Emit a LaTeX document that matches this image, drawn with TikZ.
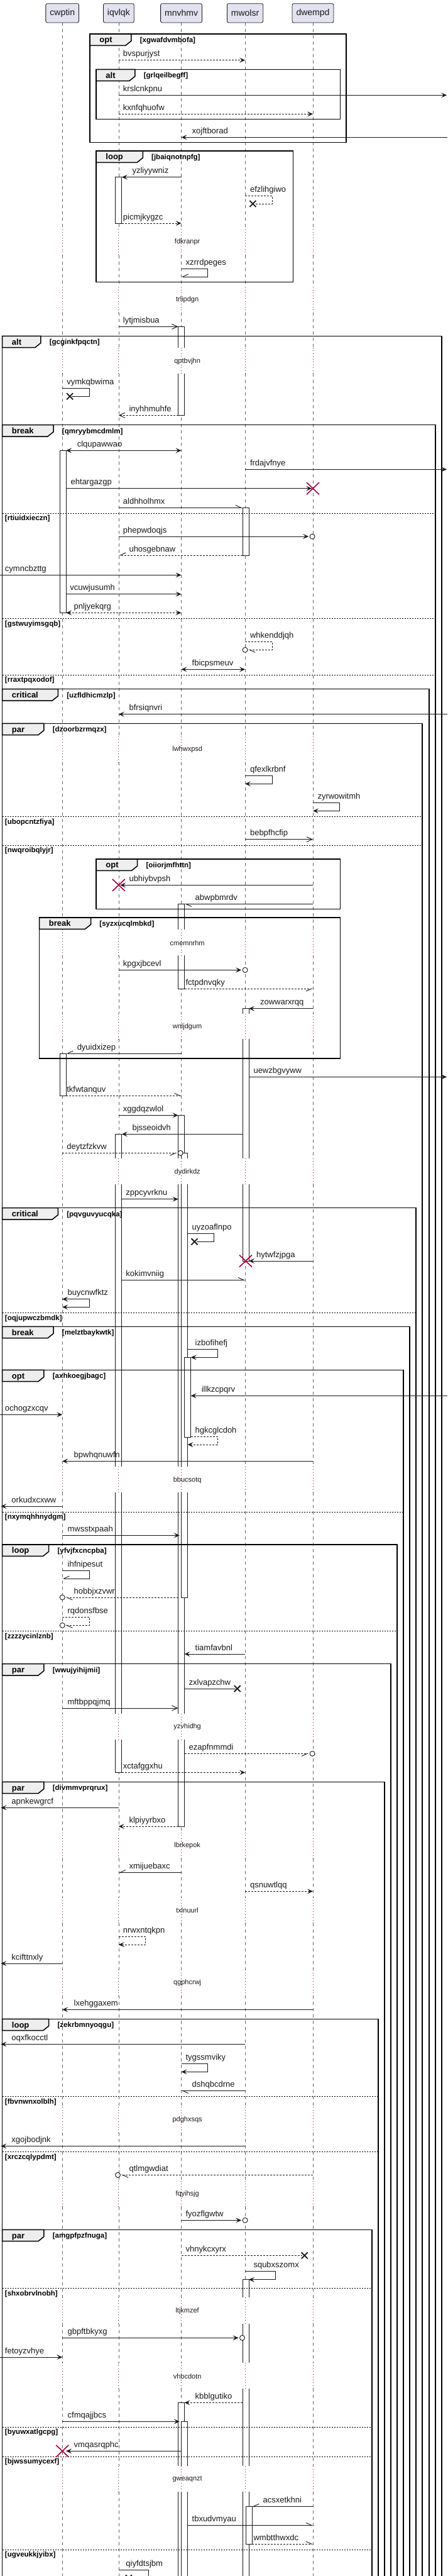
\documentclass[tikz,border=0pt]{standalone}
\usepackage{fontspec}
\setmainfont{Liberation Sans}
\usetikzlibrary{arrows.meta}
\definecolor{ink}{HTML}{181818}
\definecolor{lifec}{HTML}{666666}
\definecolor{xred}{HTML}{A80036}
\definecolor{partfill}{HTML}{E2E2F0}
\definecolor{tabc}{HTML}{EEEEEE}
\newcommand\fmsg{\fontsize{13}{15}\selectfont}
\newcommand\fpart{\fontsize{14}{16}\selectfont}
\newcommand\fkw{\fontsize{13}{15}\selectfont\bfseries}
\newcommand\fgd{\fontsize{11.5}{13}\selectfont\bfseries}
\newcommand\fdl{\fontsize{11}{13}\selectfont}
\tikzset{
 part/.style={draw=ink, fill=partfill, line width=0.8pt, rounded corners=2.5pt, font=\fpart, text=ink, minimum height=30.3pt, inner xsep=6.5pt, inner ysep=0pt},
 life/.style={draw=lifec, line width=0.7pt, dash pattern=on 5pt off 5pt},
 dly/.style={draw=xred, line width=0.9pt, dash pattern=on 1pt off 3.5pt},
 actb/.style={draw=ink, fill=white, line width=0.8pt},
 frm/.style={draw=black, line width=1.5pt},
 tabs/.style={draw=black, fill=tabc, line width=1.5pt, line join=miter},
 dv/.style={draw=black, line width=0.8pt, dash pattern=on 2pt off 2pt},
 m/.style={draw=ink, line width=0.9pt},
 dm/.style={m, dash pattern=on 3pt off 2pt},
 lbl/.style={font=\fmsg, anchor=base west, inner sep=0pt, text=ink},
 kwl/.style={font=\fkw, anchor=base west, inner sep=0pt},
 gdl/.style={font=\fgd, anchor=base west, inner sep=0pt},
 dlt/.style={font=\fdl, anchor=center, inner sep=1pt, text=ink},
 xb/.style={draw=ink, line width=1.8pt},
 xr/.style={draw=xred, line width=1.6pt},
 ftip/.tip={Stealth[length=9pt,width=8pt,inset=4pt]},
 otip/.tip={Straight Barb[length=9pt,width=8pt]},
 hl/.tip={Straight Barb[left,length=9pt,width=8pt]},
 hr/.tip={Straight Barb[right,length=9pt,width=8pt]},
}
\newcounter{lc}
\newcommand\mlab[3]{\stepcounter{lc}\node[lbl] (lab\thelc) at (#1,#2-18) {#3};}
\newcommand\blackx[2]{\draw[xb] ([xshift=-5pt,yshift=-5pt]#1,#2) -- ([xshift=5pt,yshift=5pt]#1,#2) ([xshift=-5pt,yshift=5pt]#1,#2) -- ([xshift=5pt,yshift=-5pt]#1,#2);}
\newcommand\redx[2]{\draw[xr] ([xshift=-10pt,yshift=-9.5pt]#1,#2) -- ([xshift=10pt,yshift=9.5pt]#1,#2) ([xshift=-10pt,yshift=9.5pt]#1,#2) -- ([xshift=10pt,yshift=-9.5pt]#1,#2);}
\newcommand\ocir[2]{\draw[m, fill=white] (#1,#2) circle[radius=4pt];}
\newcommand\tabkw[5]{%
 \draw[tabs] (#1,#2) -- (#3,#2) -- (#3,#2+33) -- (#3-20,#2+55) -- (#1,#2+55) -- cycle;
 \stepcounter{lc}\node[kwl] (kw\thelc) at (#1+33,#2+41) {#4};
 \node[gdl] (gd\thelc) at (#3+30,#2+40) {#5};}
\newcommand\divd[3]{\draw[dv] (8,#1) -- (#2,#1); \stepcounter{lc}\node[gdl] (dg\thelc) at (17,#1+35) {#3};}
\newcommand\oframe[3]{\draw[frm] (#1,12300) -- (#1,#3) -- (#2,#3) -- (#2,12300);}
\newcommand\abar[4]{\draw[actb] (#1,#3) rectangle (#2,#4);}
\begin{document}
\begin{tikzpicture}[x=0.45729pt,y=-0.33333pt]
\useasboundingbox (0,0) rectangle (1557,12288);
\clip (0,0) rectangle (1557,12288);
% lifelines
\foreach \lx in {217,413,631,853,1089}{
 \foreach \ya/\yb in {108/1093,1217/1368,1492/1658,1782/3513,3637/4435,4558/4835,4957/5525,5648/6995,7120/8175,8298/8741,8865/9050,9174/9396,9520/10050,10174/10403,10527/10960,11085/11270,11395/11763,11885/12300}
  {\draw[life] (\lx,\ya) -- (\lx,\yb);}
}
% participants
\foreach \nm/\lx/\txt in {C/217/cwptin,I/413/iqvlqk,M/631/mnvhmv,W/853/mwolsr,D/1089/dwempd}{
 \node[part] (p\nm) at (\lx,62.5) {\txt};
}
% activation bars
\abar{402}{424}{845}{1065}
\abar{620}{642}{1558}{1981}
\abar{208}{230}{2149}{2923}
\abar{844}{866}{2422}{2649}
\abar{620}{642}{4312}{4716}
\abar{844}{866}{4811}{6015}
\abar{208}{230}{5025}{5227}
\abar{620}{642}{5320}{8712}
\abar{402}{424}{5410}{8455}
\abar{631}{653}{5500}{7620}
\abar{642}{664}{6475}{6856}
\abar{844}{866}{10874}{12300}
\abar{855}{877}{11956}{12135}
\abar{620}{642}{11461}{12300}
\abar{631}{653}{11551}{12300}
% delay bands
\foreach \ya/\yb in {1093/1217,1368/1492,1658/1782,3513/3637,4435/4558,4835/4957,5525/5648,6995/7120,8175/8298,8741/8865,9050/9174,9396/9520,10050/10174,10403/10527,10960/11085,11270/11395,11763/11885}{
 \fill[white] (203,\ya) rectangle (235,\yb);
 \fill[white] (396,\ya) rectangle (430,\yb);
 \fill[white] (614,\ya) rectangle (670,\yb);
 \fill[white] (838,\ya) rectangle (883,\yb);
 \foreach \lx in {217,413,631,853,1089}{\draw[dly] (\lx,\ya) -- (\lx,\yb);}
}
% frames
\draw[frm] (313,162) rectangle (1205,680); \tabkw{313}{162}{457}{opt}{[xgwafdvmbofa]}
\draw[frm] (335,331) rectangle (1184,569); \tabkw{335}{331}{470}{alt}{[grlqeilbegff]}
\draw[frm] (335,720) rectangle (1020,1345); \tabkw{335}{720}{497}{loop}{[jbaiqnotnpfg]}
\oframe{8}{1537}{1603} \tabkw{8}{1603}{142}{alt}{[gcginkfpqctn]}
\oframe{8}{1515}{2027} \tabkw{8}{2027}{186}{break}{[qmryybmcdmlm]}
\divd{2448}{1515}{[rtiuidxieczn]}
\divd{2950}{1515}{[gstwuyimsgqb]}
\divd{3219}{1515}{[rraxtpqxodof]}
\oframe{8}{1493}{3287} \tabkw{8}{3287}{202}{critical}{[uzfldhicmzlp]}
\oframe{8}{1470}{3451} \tabkw{8}{3451}{153}{par}{[dzoorbzrmqzx]}
\divd{3895}{1470}{[ubopcntzfiya]}
\divd{4032}{1470}{[nwqroibqlyjr]}
\draw[frm] (335,4098) rectangle (1184,4337); \tabkw{335}{4098}{478}{opt}{[oiiorjmfhttn]}
\draw[frm] (137,4377) rectangle (1184,5049); \tabkw{137}{4377}{316}{break}{[syzxucqlmbkd]}
\oframe{8}{1448}{5762} \tabkw{8}{5762}{202}{critical}{[pqvguvyucqka]}
\divd{6262}{1448}{[oqjupwczbmdk]}
\oframe{8}{1426}{6328} \tabkw{8}{6328}{186}{break}{[melztbaykwtk]}
\oframe{8}{1404}{6535} \tabkw{8}{6535}{153}{opt}{[axhkoegjbagc]}
\divd{7212}{1404}{[nxymqhhnydgm]}
\oframe{8}{1382}{7368} \tabkw{8}{7368}{170}{loop}{[yfvjfxcncpba]}
\divd{7780}{1382}{[zzzzycinlznb]}
\oframe{8}{1360}{7937} \tabkw{8}{7937}{153}{par}{[wwujyihijmii]}
\oframe{8}{1338}{8500} \tabkw{8}{8500}{153}{par}{[divmmvprqrux]}
\oframe{8}{1316}{9631} \tabkw{8}{9631}{170}{loop}{[zekrbmnyoqgu]}
\divd{10000}{1316}{[fbvnwnxolblh]}
\divd{10264}{1316}{[xrczcqlypdmt]}
\oframe{8}{1295}{10636} \tabkw{8}{10636}{153}{par}{[amgpfpzfnuga]}
\divd{10915}{1295}{[shxobrvlnobh]}
\divd{11577}{1295}{[byuwxatlgcpg]}
\divd{11718}{1295}{[bjwssumycexf]}
\divd{12162}{1295}{[ugveukkjyibx]}
% delay texts
\foreach \ty/\tt in {1155/fdkranpr,1430/trlipdgn,1723/qptbvjhn,3575/lwhwxpsd,4500/cmemnrhm,4897/wnljdgum,5590/dydirkdz,7060/bbucsotq,8238/yzvhidhg,8803/lbrkepok,9112/txlnuurl,9458/qgphcrwj,10112/pdghxsqs,10465/fqyihsjg,11025/ltjkmzef,11335/vhbcdotn,11827/gweaqnzt}{
 \node[dlt] (d\tt) at (652,\ty) {\tt};
}
% messages
\draw[dm,-ftip] (413,287) -- (853,287); \mlab{428}{287}{bvspurjyst}
\draw[m,-ftip] (413,454) -- (1555,454); \mlab{428}{454}{krslcnkpnu}
\draw[dm,-ftip] (413,544) -- (1089,544); \mlab{428}{544}{kxnfqhuofw}
\draw[m,-ftip] (1557,655) -- (631,655); \mlab{668}{655}{xojftborad}
\draw[m,-ftip] (631,845) -- (424,845); \mlab{460}{845}{yzliyywniz}
\draw[dm] (853,934) -- (948,934) -- (948,972) -- (887,972); \blackx{880}{972} \mlab{870}{934}{efzlihgiwo}
\draw[dm,-ftip] (424,1065) -- (631,1065); \mlab{428}{1065}{picmjkygzc}
\draw[m,-hr] (631,1282) -- (723,1282) -- (723,1320) -- (631,1320); \mlab{646}{1282}{xzrrdpeges}
\draw[m,-otip] (413,1558) -- (620,1558); \mlab{428}{1558}{lytjmisbua}
\draw[m] (217,1852) -- (312,1852) -- (312,1891) -- (250,1891); \blackx{243}{1891} \mlab{232}{1852}{vymkqbwima}
\draw[dm,-otip] (620,1981) -- (413,1981); \mlab{449}{1981}{inyhhmuhfe}
\draw[m,ftip-ftip] (230,2149) -- (631,2149); \mlab{268}{2149}{clqupawwao}
\draw[m,-ftip] (853,2239) -- (1555,2239); \mlab{870}{2239}{frdajvfnye}
\draw[m,-ftip] (230,2330) -- (1085,2330); \redx{1089}{2330} \mlab{246}{2330}{ehtargazgp}
\draw[m,-hl] (413,2422) -- (844,2422); \mlab{428}{2422}{aldhholhmx}
\draw[m,-ftip] (413,2559) -- (1074,2559); \ocir{1087}{2559} \mlab{428}{2559}{phepwdoqjs}
\draw[dm,-hr] (844,2649) -- (413,2649); \mlab{449}{2649}{uhosgebnaw}
\draw[m,-ftip] (0,2743) -- (631,2743); \mlab{17}{2743}{cymncbzttg}
\draw[m,-ftip] (230,2834) -- (631,2834); \mlab{243}{2834}{vcuwjusumh}
\draw[dm,ftip-ftip] (230,2923) -- (631,2923); \mlab{257}{2923}{pnljyekqrg}
\draw[dm,-hl] (853,3062) -- (948,3062) -- (948,3100) -- (864,3100); \ocir{853}{3100} \mlab{870}{3062}{whkenddjqh}
\draw[m,ftip-ftip] (631,3193) -- (853,3193); \mlab{668}{3193}{fbicpsmeuv}
\draw[m,-ftip] (1557,3407) -- (413,3407); \mlab{449}{3407}{bfrsiqnvri}
\draw[m,-ftip] (853,3700) -- (948,3700) -- (948,3739) -- (853,3739); \mlab{870}{3700}{qfexlkrbnf}
\draw[m,-ftip] (1089,3829) -- (1181,3829) -- (1181,3868) -- (1089,3868); \mlab{1105}{3829}{zyrwowitmh}
\draw[m,-otip] (853,4004) -- (1089,4004); \mlab{870}{4004}{bebpfhcfip}
\draw[m,-ftip] (1089,4222) -- (418,4222); \redx{413}{4222} \mlab{449}{4222}{ubhiybvpsh}
\draw[m,-hl] (1089,4312) -- (642,4312); \mlab{679}{4312}{abwpbmrdv}
\draw[m,-ftip] (413,4627) -- (840,4627); \ocir{853}{4627} \mlab{428}{4627}{kpgxjbcevl}
\draw[dm,-hr] (642,4716) -- (1089,4716); \mlab{646}{4716}{fctpdnvqky}
\draw[m,-ftip] (1089,4811) -- (866,4811); \mlab{905}{4811}{zowwarxrqq}
\draw[m,-hr] (631,5025) -- (230,5025); \mlab{268}{5025}{dyuidxizep}
\draw[m,-ftip] (866,5137) -- (1555,5137); \mlab{882}{5137}{uewzbgvyww}
\draw[dm,-hl] (230,5227) -- (631,5227); \mlab{232}{5227}{tkfwtanquv}
\draw[m,-ftip] (413,5320) -- (620,5320); \mlab{428}{5320}{xggdqzwlol}
\draw[m,-ftip] (844,5410) -- (424,5410); \mlab{460}{5410}{bjsseoidvh}
\draw[dm,-hr] (217,5500) -- (616,5500); \ocir{628}{5500} \mlab{232}{5500}{deytzfzkvw}
\draw[m,-ftip] (424,5720) -- (620,5720); \mlab{438}{5720}{zppcyvrknu}
\draw[m] (653,5885) -- (745,5885) -- (745,5923) -- (684,5923); \blackx{677}{5923} \mlab{668}{5885}{uyzoaflnpo}
\draw[m,-ftip] (1089,6015) -- (866,6015); \redx{855}{6015} \mlab{892}{6015}{hytwfzjpga}
\draw[m,-hl] (424,6106) -- (853,6106); \mlab{438}{6106}{kokimvniig}
\draw[m,ftip-ftip] (217,6197) -- (312,6197) -- (312,6235) -- (217,6235); \mlab{235}{6197}{buycnwfktz}
\draw[m,-ftip] (653,6436) -- (757,6436) -- (757,6475) -- (664,6475); \mlab{679}{6436}{izbofihefj}
\draw[m,-ftip] (1557,6658) -- (664,6658); \mlab{701}{6658}{illkzcpqrv}
\draw[m,-ftip] (0,6748) -- (217,6748); \mlab{17}{6748}{ochogzxcqv}
\draw[dm,-ftip] (664,6853) -- (757,6853) -- (757,6891) -- (653,6891); \mlab{679}{6853}{hgkcglcdoh}
\draw[m,-ftip] (1089,6970) -- (217,6970); \mlab{257}{6970}{bpwhqnuwfn}
\draw[m,-ftip] (217,7185) -- (3,7185); \mlab{40}{7185}{orkudxcxww}
\draw[m,-ftip] (217,7324) -- (625,7324); \mlab{235}{7324}{mwsstxpaah}
\draw[m,-hr] (217,7492) -- (312,7492) -- (312,7530) -- (217,7530); \mlab{235}{7492}{ihfnipesut}
\draw[dm,-hl] (620,7620) -- (228,7620); \ocir{217}{7620} \mlab{257}{7620}{hobbjxzvwr}
\draw[dm,-hl] (217,7715) -- (312,7715) -- (312,7753) -- (228,7753); \ocir{217}{7753} \mlab{235}{7715}{rqdonsfbse}
\draw[m,-ftip] (853,7890) -- (642,7890); \mlab{679}{7890}{tiamfavbnl}
\draw[m] (642,8055) -- (819,8055); \blackx{826}{8055} \mlab{657}{8055}{zxlvapzchw}
\draw[m,-otip] (217,8148) -- (620,8148); \mlab{235}{8148}{mftbppqjmq}
\draw[dm,-hr] (642,8365) -- (1074,8365); \ocir{1087}{8365} \mlab{657}{8365}{ezapfnmmdi}
\draw[dm,-ftip] (424,8455) -- (853,8455); \mlab{428}{8455}{xctafggxhu}
\draw[m,-ftip] (413,8623) -- (3,8623); \mlab{40}{8623}{apnkewgrcf}
\draw[dm,-ftip] (620,8712) -- (413,8712); \mlab{449}{8712}{klpiyyrbxo}
\draw[m,-hr] (631,8932) -- (413,8932); \mlab{449}{8932}{xmijuebaxc}
\draw[dm,-ftip] (853,9022) -- (1089,9022); \mlab{870}{9022}{qsnuwtlqq}
\draw[dm,-ftip] (413,9238) -- (506,9238) -- (506,9276) -- (413,9276); \mlab{428}{9238}{nrwxntqkpn}
\draw[m,-ftip] (217,9366) -- (3,9366); \mlab{40}{9366}{kcifttnxly}
\draw[m,-ftip] (1089,9586) -- (217,9586); \mlab{257}{9586}{lxehggaxem}
\draw[m,-ftip] (853,9751) -- (3,9751); \mlab{40}{9751}{oqxfkocctl}
\draw[m,-ftip] (631,9844) -- (723,9844) -- (723,9883) -- (631,9883); \mlab{646}{9844}{tygssmviky}
\draw[m,-hl] (853,9973) -- (631,9973); \mlab{668}{9973}{dshqbcdrne}
\draw[m,-ftip] (853,10237) -- (3,10237); \mlab{40}{10237}{xgojbodjnk}
\draw[dm,-hl] (1089,10375) -- (422,10375); \ocir{410}{10375} \mlab{449}{10375}{qtlmgwdiat}
\draw[m,-ftip] (631,10591) -- (840,10591); \ocir{853}{10591} \mlab{646}{10591}{fyozflgwtw}
\draw[dm] (631,10759) -- (1052,10759); \blackx{1060}{10759} \mlab{646}{10759}{vhnykcxyrx}
\draw[m,-ftip] (853,10835) -- (958,10835) -- (958,10874) -- (866,10874); \mlab{882}{10835}{squbxszomx}
\draw[m,-ftip] (217,11152) -- (830,11152); \ocir{843}{11152} \mlab{235}{11152}{gbpftbkyxg}
\draw[m,-ftip] (0,11244) -- (217,11244); \mlab{17}{11244}{fetoyzvhye}
\draw[dm,-ftip] (844,11461) -- (642,11461); \mlab{679}{11461}{kbblgutiko}
\draw[m,-ftip] (217,11551) -- (625,11551); \mlab{235}{11551}{cfmqajjbcs}
\draw[m,-ftip] (631,11692) -- (230,11692); \redx{217}{11692} \mlab{257}{11692}{vmqasrqphc}
\draw[m,-hr] (1089,11956) -- (877,11956); \mlab{915}{11956}{acsxetkhni}
\draw[m,-hl] (653,12046) -- (1089,12046); \mlab{668}{12046}{tbxudvmyau}
\draw[dm,-hl] (877,12135) -- (1089,12135); \mlab{882}{12135}{wmbtthwxdc}
\draw[m] (413,12260) -- (516,12260) -- (516,12298) -- (455,12298); \blackx{448}{12298} \mlab{438}{12260}{qiyfdtsjbm}
\end{tikzpicture}
\end{document}
